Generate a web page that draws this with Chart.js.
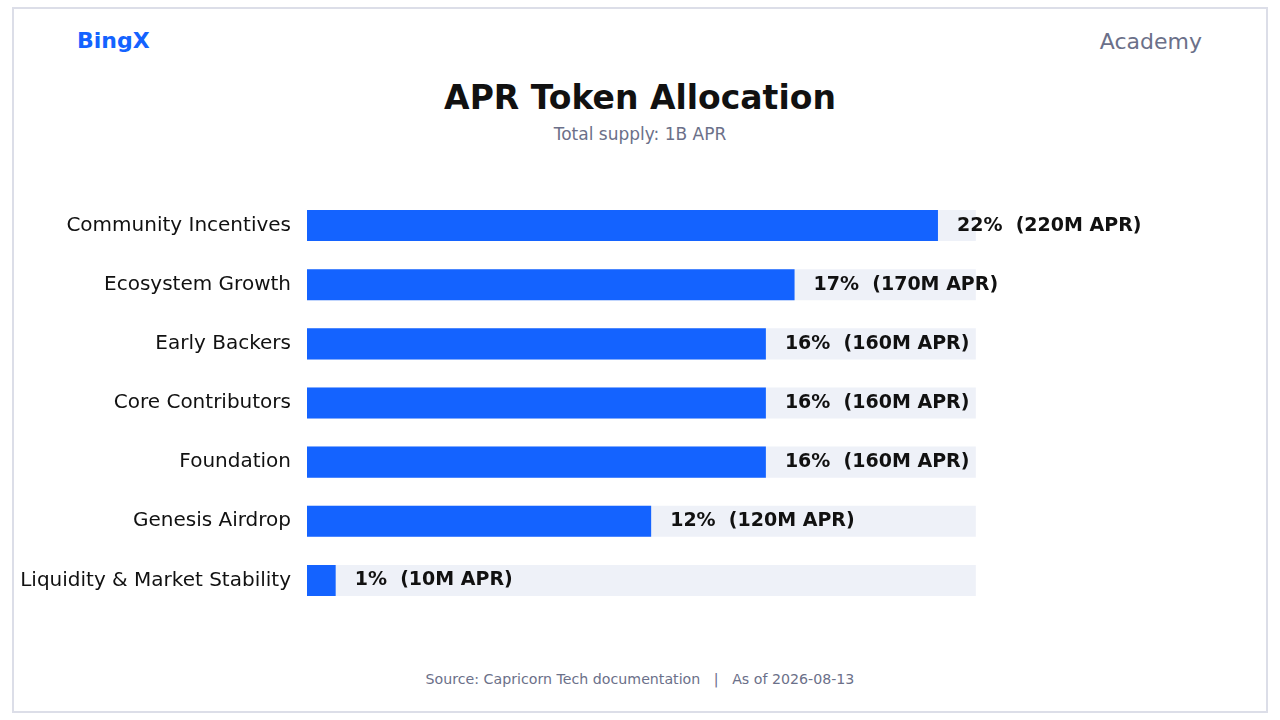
<!DOCTYPE html>
<html>
<head>
<meta charset="utf-8">
<script src="https://cdn.jsdelivr.net/npm/chart.js@4.4.1/dist/chart.umd.min.js"></script>
<style>
  html, body { margin: 0; padding: 0; background: #ffffff; }
  body { width: 1280px; height: 720px; position: relative; overflow: hidden; font-family: "DejaVu Sans", sans-serif; }
  .frame { position: absolute; left: 12px; top: 7px; width: 1252px; height: 702px; border: 2px solid #dcdee8; }
  .txt { position: absolute; white-space: pre; line-height: 1; font-family: "DejaVu Sans", sans-serif; }
  #brand { left: 77px; top: 30px; font-size: 22px; font-weight: bold; color: #1463ff; }
  #academy { right: 78px; top: 31px; font-size: 22px; color: #6b7089; }
  #title { left: 0; width: 1280px; text-align: center; top: 81px; font-size: 33px; font-weight: bold; color: #111111; }
  #subtitle { left: 0; width: 1280px; text-align: center; top: 126px; font-size: 17px; color: #6b7089; }
  #footer { left: 0; width: 1280px; text-align: center; top: 672px; font-size: 14.2px; color: #6b7089; }
  #c { position: absolute; left: 0; top: 168px; width: 1280px; height: 470px; }
</style>
</head>
<body>
<div class="frame"></div>
<div class="txt" id="brand">BingX</div>
<div class="txt" id="academy">Academy</div>
<div class="txt" id="title">APR Token Allocation</div>
<div class="txt" id="subtitle">Total supply: 1B APR</div>
<div class="txt" id="footer">Source: Capricorn Tech documentation   |   As of 2026-08-13</div>
<canvas id="c" width="1280" height="470"></canvas>
<script>
const categories = ["Community Incentives", "Ecosystem Growth", "Early Backers", "Core Contributors", "Foundation", "Genesis Airdrop", "Liquidity & Market Stability"];
const percents = [22, 17, 16, 16, 16, 12, 1];
const amounts = ["220M", "170M", "160M", "160M", "160M", "120M", "10M"];
const tokenSymbol = "APR";

const trackLength = Math.max(...percents) * 1.06;
const trackValues = categories.map(() => trackLength);

const valueLabels = {
  id: "valueLabels",
  afterDatasetsDraw(chart) {
    const ctx = chart.ctx;
    const meta = chart.getDatasetMeta(1);
    ctx.save();
    ctx.font = "bold 19px 'DejaVu Sans'";
    ctx.fillStyle = "#111111";
    ctx.textAlign = "left";
    ctx.textBaseline = "middle";
    meta.data.forEach((bar, i) => {
      ctx.fillText(percents[i] + "%  (" + amounts[i] + " " + tokenSymbol + ")", bar.x + 19, bar.y);
    });
    ctx.restore();
  }
};

new Chart(document.getElementById("c"), {
  type: "bar",
  data: {
    labels: categories,
    datasets: [
      { data: trackValues, backgroundColor: "#eef1f8", order: 2, grouped: false, barPercentage: 0.525, categoryPercentage: 1 },
      { data: percents, backgroundColor: "#1463ff", order: 1, grouped: false, barPercentage: 0.525, categoryPercentage: 1 }
    ]
  },
  options: {
    indexAxis: "y",
    responsive: false,
    animation: false,
    layout: { padding: { left: 0, right: 112.6, top: 0, bottom: 0 } },
    plugins: { legend: { display: false }, tooltip: { enabled: false } },
    scales: {
      x: { display: false, min: 0, max: 30 },
      y: {
        grid: { display: false, drawTicks: false },
        border: { display: false },
        ticks: { padding: 16, color: "#111111", font: { family: "DejaVu Sans", size: 20 } },
        afterFit(scale) { scale.width = 307; }
      }
    }
  },
  plugins: [valueLabels]
});
</script>
</body>
</html>
